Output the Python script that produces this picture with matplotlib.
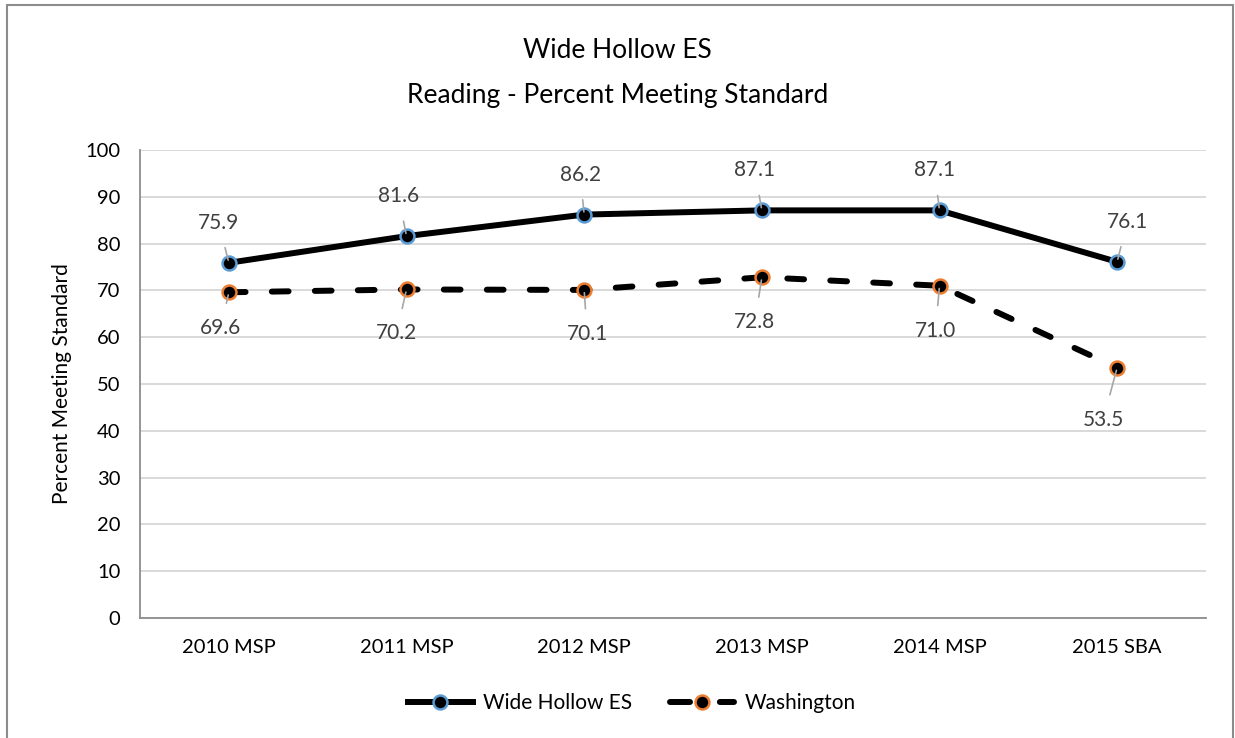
import matplotlib
matplotlib.use("Agg")
import matplotlib.pyplot as plt
from matplotlib.lines import Line2D
from matplotlib.patches import Rectangle

plt.rcParams["font.family"] = ["Lato", "DejaVu Sans"]

categories = ["2010 MSP", "2011 MSP", "2012 MSP", "2013 MSP", "2014 MSP", "2015 SBA"]
wide_hollow = [75.9, 81.6, 86.2, 87.1, 87.1, 76.1]
washington = [69.6, 70.2, 70.1, 72.8, 71.0, 53.5]

# label offsets in pixels (dx, dy) from each point
wh_offsets = [(-10, 40), (-8, 40), (-4, 40), (-7, 40), (-5, 40), (10, 40)]
wa_offsets = [(-8, -36), (-10, -44), (3, -44), (-7, -45), (-4, -45), (-14, -52)]

LW = 4.3
MS = 10

fig = plt.figure(figsize=(12.35, 7.38), dpi=100)
ax = fig.add_axes([140 / 1235, 1 - 618 / 738, 1066 / 1235, 468 / 738])

# chart border
fig.patches.append(Rectangle((7 / 1235, -0.01), 1226 / 1235, 1 - 5 / 738 + 0.01,
                             transform=fig.transFigure, fill=False,
                             edgecolor="#8c8c8c", linewidth=1.5))

x = list(range(len(categories)))

ax.plot(x, wide_hollow, color="black", linewidth=LW, marker="o",
        markersize=MS, markerfacecolor="black", markeredgecolor="#5b9bd5",
        markeredgewidth=1.8, solid_capstyle="round", zorder=3,
        label="Wide Hollow ES")
ax.plot(x, washington, color="black", linewidth=LW, marker="o",
        markersize=MS, markerfacecolor="black", markeredgecolor="#ed7d31",
        markeredgewidth=1.8, dashes=(2.8, 4.4), dash_capstyle="round", zorder=3,
        label="Washington")

for xi, v, (dx, dy) in zip(x, wide_hollow, wh_offsets):
    ax.annotate(f"{v:.1f}", (xi, v), xytext=(dx, dy), textcoords="offset pixels",
                ha="center", va="center", fontsize=15, color="#404040",
                arrowprops=dict(arrowstyle="-", color="#a6a6a6", lw=1.2,
                                shrinkA=9, shrinkB=2), zorder=4)

for xi, v, (dx, dy) in zip(x, washington, wa_offsets):
    ax.annotate(f"{v:.1f}", (xi, v), xytext=(dx, dy), textcoords="offset pixels",
                ha="center", va="center", fontsize=15, color="#404040",
                arrowprops=dict(arrowstyle="-", color="#a6a6a6", lw=1.2,
                                shrinkA=9, shrinkB=2), zorder=4)

ax.set_xlim(-0.5, len(categories) - 0.5)
ax.set_ylim(0, 100)
ax.set_yticks(range(0, 101, 10))
ax.set_xticks(x)
ax.set_xticklabels(categories)
ax.tick_params(axis="both", length=0, labelsize=14.5, colors="black")
ax.tick_params(axis="x", pad=15)
ax.tick_params(axis="y", pad=14)

ax.grid(axis="y", color="#d9d9d9", linewidth=1.4)
ax.set_axisbelow(True)
for side in ["top", "right"]:
    ax.spines[side].set_visible(False)
for side in ["left", "bottom"]:
    ax.spines[side].set_color("#8c8c8c")
    ax.spines[side].set_linewidth(1.3)

ax.set_ylabel("Percent Meeting Standard", fontsize=15, labelpad=10)

fig.text(0.5, 1 - 50 / 738, "Wide Hollow ES", ha="center", va="center", fontsize=19)
fig.text(0.5, 1 - 95 / 738, "Reading - Percent Meeting Standard", ha="center",
         va="center", fontsize=19)

handles = [
    Line2D([], [], color="black", linewidth=LW, marker="o", markersize=MS,
           markerfacecolor="black", markeredgecolor="#5b9bd5", markeredgewidth=1.8),
    Line2D([], [], color="black", linewidth=LW, marker="o", markersize=MS,
           markerfacecolor="black", markeredgecolor="#ed7d31", markeredgewidth=1.8,
           dashes=(3.35, 5.0), dash_capstyle="round"),
]
fig.legend(handles, ["Wide Hollow ES", "Washington"], loc="center",
           bbox_to_anchor=(632 / 1235, 1 - 703 / 738), ncol=2, frameon=False,
           fontsize=15, handlelength=3.1, columnspacing=1.8, handletextpad=0.5)

fig.savefig("out.png", dpi=100)
